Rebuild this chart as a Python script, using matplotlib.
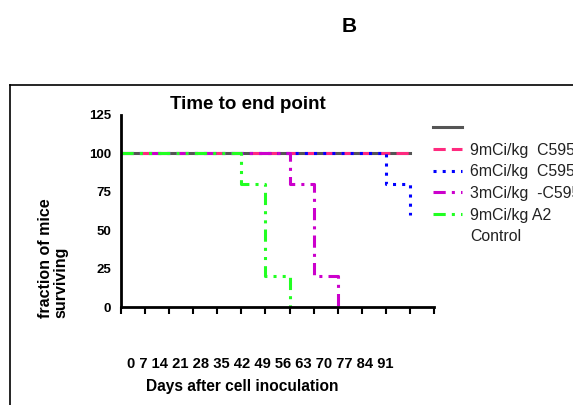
import matplotlib
matplotlib.use("Agg")
import matplotlib.pyplot as plt
from matplotlib.lines import Line2D

plt.rcParams['font.family'] = ['Liberation Sans', 'DejaVu Sans']

# Data (days, % surviving)
control_x = [0, 84]
control_y = [100, 100]
c595_9_x = [0, 84]
c595_9_y = [100, 100]
c595_6_x = [0, 77, 84]
c595_6_y = [100, 80, 60]
c595_3_x = [0, 49, 56, 63]
c595_3_y = [100, 80, 20, 0]
a2_9_x = [0, 35, 42, 49]
a2_9_y = [100, 80, 20, 0]

x_ticks = [0, 7, 14, 21, 28, 35, 42, 49, 56, 63, 70, 77, 84, 91]
x_tick_labels = ['0', '7', '14', '21', '28', '35', '42', '49', '56', '63', '70', '77', '84', '91']
y_ticks = [0, 25, 50, 75, 100, 125]
legend_labels = ['', '9mCi/kg  C595', '6mCi/kg  C595', '3mCi/kg  -C595', '9mCi/kg A2', 'Control']

W, H = 573, 405
fig = plt.figure(figsize=(W / 100, H / 100), dpi=100)
ax = fig.add_axes([121 / W, 1 - 307 / H, (434 - 121) / W, (307 - 115) / H])

lw = 2.2
l_ctrl, = ax.plot(control_x, control_y, color='#555555', lw=lw, drawstyle='steps-post')
l_9, = ax.plot(c595_9_x, c595_9_y, color='#ff2a7f', lw=lw, ls=(0, (4, 2)), drawstyle='steps-post')
l_6, = ax.plot(c595_6_x, c595_6_y, color='#0000ff', lw=lw, ls=(0, (1, 2)), drawstyle='steps-post')
l_3, = ax.plot(c595_3_x, c595_3_y, color='#cc00cc', lw=lw, ls=(0, (4, 2, 1, 2)), drawstyle='steps-post')
l_a2, = ax.plot(a2_9_x, a2_9_y, color='#22ff22', lw=lw, ls=(0, (4, 2, 1, 2, 1, 2)), drawstyle='steps-post')

ax.set_xlim(0, 91)
ax.set_ylim(0, 125)
ax.set_xticks(x_ticks)
ax.set_xticklabels([''] * len(x_ticks))
ax.set_yticks(y_ticks)
ax.set_yticklabels([str(v) for v in y_ticks], fontsize=9.5, fontweight='bold')
ax.tick_params(axis='x', direction='out', length=5, width=1.5)
ax.tick_params(axis='y', length=0, pad=7)
for s in ['top', 'right']:
    ax.spines[s].set_visible(False)
for s in ['left', 'bottom']:
    ax.spines[s].set_linewidth(2)

ax.set_title('Time to end point', fontsize=13.5, fontweight='bold', x=(248 - 121) / (434 - 121), pad=4)
ax.set_ylabel('fraction of mice\nsurviving', fontsize=11.5, fontweight='bold', linespacing=1.0,
              multialignment='left')
ax.yaxis.set_label_coords((68 - 121) / (434 - 121), (307 - 258.5) / 192)

fig.text(260 / W, 1 - 364 / H, ' '.join(x_tick_labels), fontsize=10.6, fontweight='bold', ha='center', va='center')
fig.text(242 / W, 1 - 386 / H, 'Days after cell inoculation', fontsize=11.2, fontweight='bold', ha='center', va='center')
fig.text(349 / W, 1 - 27 / H, 'B', fontsize=15, fontweight='bold', ha='center', va='center')

# outer frame
fig.add_artist(Line2D([10 / W, 10 / W], [0, 1 - 85 / H], color='black', lw=1.2, transform=fig.transFigure))
fig.add_artist(Line2D([10 / W, 1], [1 - 85 / H, 1 - 85 / H], color='black', lw=1.2, transform=fig.transFigure))

blank = Line2D([], [], color='none')
handles = [Line2D([], [], color='#555555', lw=lw), l_9, l_6, l_3, l_a2, blank]
leg = fig.legend(handles, legend_labels, loc='upper left', bbox_to_anchor=(426.7 / W, 1 - 114.7 / H),
                 frameon=False, fontsize=11.4, handlelength=1.83, handletextpad=0.5, labelspacing=0.42,
                 borderaxespad=0)
for t in leg.get_texts():
    t.set_color('#222222')

fig.savefig('out.png', dpi=100)
